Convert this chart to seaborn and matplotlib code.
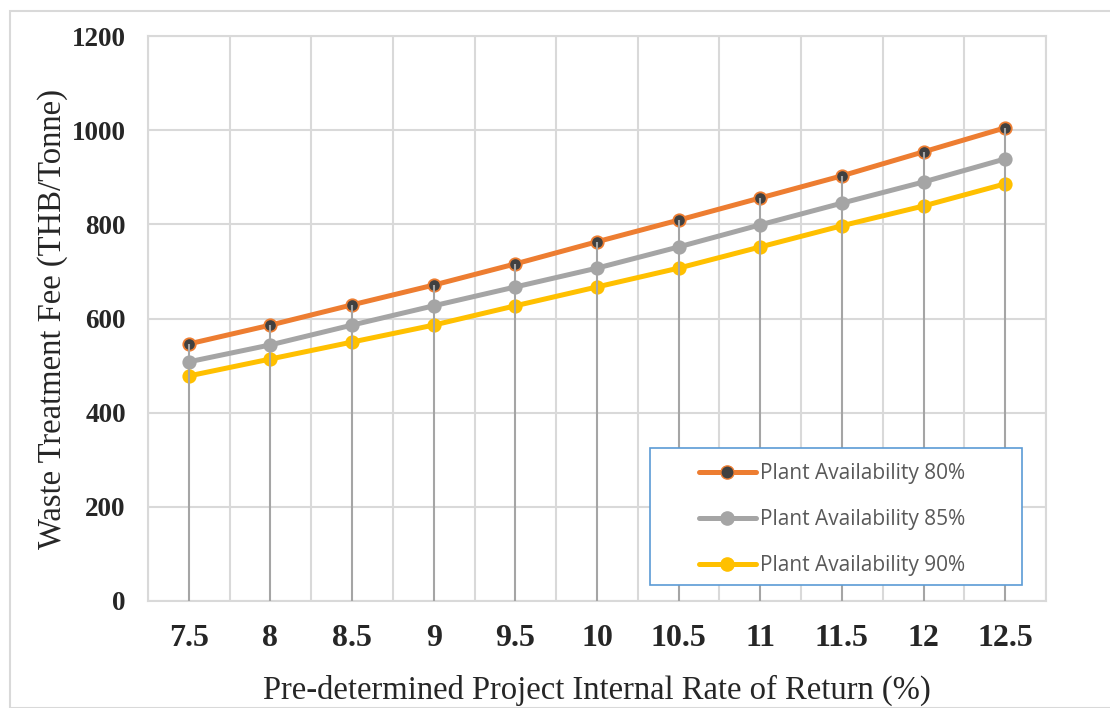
import matplotlib
matplotlib.use("Agg")
import matplotlib.pyplot as plt
import seaborn as sns
import pandas as pd
import numpy as np
from matplotlib.patches import Rectangle
from matplotlib.lines import Line2D

irr = ["7.5", "8", "8.5", "9", "9.5", "10", "10.5", "11", "11.5", "12", "12.5"]
avail_80 = [546, 586, 629, 671, 716, 763, 809, 856, 903, 954, 1005]
avail_85 = [508, 544, 586, 627, 667, 707, 752, 799, 845, 890, 939]
avail_90 = [478, 514, 550, 586, 627, 667, 707, 752, 797, 839, 886]
labels = ["Plant Availability 80%", "Plant Availability 85%", "Plant Availability 90%"]
y_ticks = [0, 200, 400, 600, 800, 1000, 1200]

sns.set_theme(style="white")
plt.rcParams["font.family"] = ["Liberation Serif", "DejaVu Serif"]

pos = np.arange(len(irr))
df = pd.DataFrame({
    "pos": np.tile(pos, 3),
    "fee": avail_80 + avail_85 + avail_90,
    "series": np.repeat(labels, len(irr)),
})

fig = plt.figure(figsize=(11.1, 7.08), dpi=100)
ax = fig.add_axes([148/1110, 1 - 601/708, 898/1110, 565/708])

fig.patches.append(Rectangle((10/1110, 0), 1.0, 1 - 11/708, transform=fig.transFigure,
                             fill=False, edgecolor="#D9D9D9", linewidth=1.5, zorder=0))

colors = {labels[0]: "#ED7D31", labels[1]: "#A5A5A5", labels[2]: "#FFC000"}
sns.lineplot(data=df, x="pos", y="fee", hue="series", palette=colors, ax=ax,
             linewidth=3.6, legend=False, zorder=3)

mk = dict(zorder=4, s=80, linewidths=1.3)
ax.scatter(pos, avail_80, color="#404040", edgecolors="#ED7D31", **mk)
ax.scatter(pos, avail_85, color="#A5A5A5", edgecolors="#A5A5A5", **mk)
ax.scatter(pos, avail_90, color="#FFC000", edgecolors="#FFC000", **mk)

top = np.maximum.reduce([avail_80, avail_85, avail_90])
ax.vlines(pos, 0, top, color="#A5A5A5", linewidth=1.5, zorder=5)

ax.set_xlim(-0.5, len(irr) - 0.5)
ax.set_ylim(0, 1200)
ax.set_yticks(y_ticks)
ax.set_yticklabels([str(v) for v in y_ticks], fontweight="bold", fontsize=19.5)
ax.set_xticks(pos)
ax.set_xticklabels(irr, fontweight="bold", fontsize=23)
ax.set_xticks(np.arange(-0.5, len(irr), 1.0), minor=True)
ax.tick_params(axis="both", which="both", length=0)
ax.tick_params(axis="x", pad=16.5)
ax.tick_params(axis="y", pad=16)

ax.grid(True, axis="y", which="major", color="#D9D9D9", linewidth=1.5)
ax.grid(True, axis="x", which="minor", color="#D9D9D9", linewidth=1.5)
ax.grid(False, axis="x", which="major")
for s in ax.spines.values():
    s.set_color("#D9D9D9")
    s.set_linewidth(1.5)

ax.set_xlabel("Pre-determined Project Internal Rate of Return (%)", fontsize=23.5, labelpad=16)
ax.set_ylabel("Waste Treatment Fee (THB/Tonne)", fontsize=23.5, labelpad=2.5)

handles = [
    Line2D([], [], color="#ED7D31", lw=3.6, marker="o", markersize=9.5,
           markerfacecolor="#404040", markeredgecolor="#ED7D31"),
    Line2D([], [], color="#A5A5A5", lw=3.6, marker="o", markersize=9.5,
           markerfacecolor="#A5A5A5", markeredgecolor="#A5A5A5"),
    Line2D([], [], color="#FFC000", lw=3.6, marker="o", markersize=9.5,
           markerfacecolor="#FFC000", markeredgecolor="#FFC000"),
]
ax.add_patch(Rectangle((0.559, 0.0283), 0.414, 0.2425, transform=ax.transAxes,
                       facecolor="white", edgecolor="#5B9BD5", linewidth=1.2, zorder=9))
leg = ax.legend(handles, labels, loc="center left", bbox_to_anchor=(0.614, 0.144),
                frameon=False, handlelength=2.7, labelspacing=1.2,
                borderpad=0, handletextpad=0.2, borderaxespad=0,
                prop={"family": ["Open Sans", "DejaVu Sans"], "size": 15})
leg.set_zorder(10)
for t in leg.get_texts():
    t.set_color("#595959")

fig.savefig("out.png", dpi=100)
